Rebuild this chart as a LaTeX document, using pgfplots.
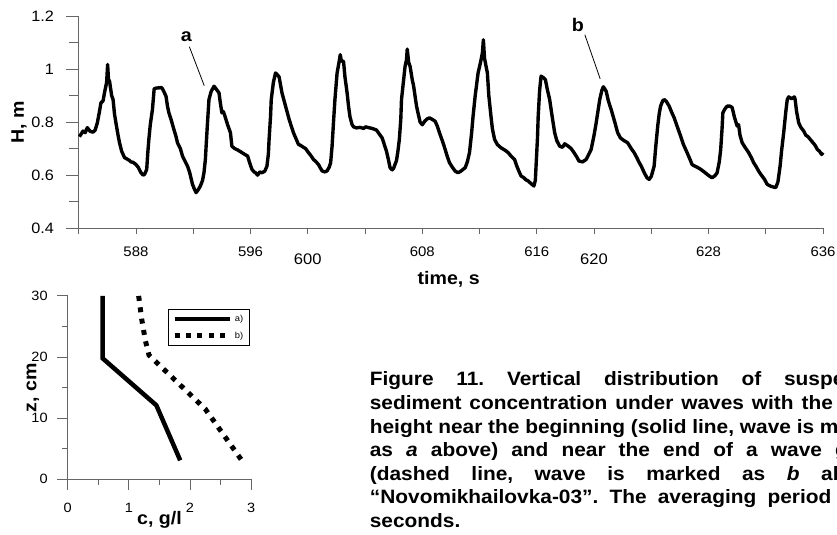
\documentclass[border=0pt]{standalone}
\usepackage{fontspec}
\setmainfont{Liberation Sans}[FakeStretch=1.08]
\usepackage{pgfplots}
\pgfplotsset{compat=1.18}
\definecolor{axgray}{rgb}{0.40,0.40,0.40}
\newcommand{\fs}[1]{\fontsize{#1}{#1}\selectfont}
\newlength\capw
\begin{document}
\frenchspacing
\settowidth\capw{\bfseries\fontsize{19.4}{23.7}\selectfont height near the beginning (solid line, wave is marked}
\begin{tikzpicture}
\begin{axis}[
  at={(76pt,307pt)}, anchor=south west, scale only axis,
  width=747pt, height=213pt,
  xmin=584, xmax=636, ymin=0.4, ymax=1.2,
  axis lines=left, axis line style={-, draw=axgray, line width=0.9pt},
  tick align=outside,
  /pgf/number format/assume math mode=true,
  xtick={588,596,608,616,628,636},
  minor xtick={584,592,604,612,624,632},
  extra x ticks={600,620},
  extra x tick style={major tick length=13.5pt, xticklabel style={font=\fs{15.4}, yshift=2pt}},
  xtick style={draw=axgray, line width=0.9pt, /pgfplots/major tick length=6pt, /pgfplots/minor tick length=6pt},
  ytick={0.4,0.6,0.8,1,1.2},
  minor ytick={0.5,0.7,0.9,1.1},
  ytick style={draw=axgray, line width=0.9pt, /pgfplots/major tick length=13pt, /pgfplots/minor tick length=10pt},
  xticklabel style={font=\fs{13.9}, yshift=-11pt},
  yticklabel style={font=\fs{15.1}, xshift=-17pt},
  xlabel={\bfseries time, s},
  xlabel style={font=\fs{18.2}, at={(axis description cs:0.497,-0.2394)}, anchor=center},
  ylabel={\bfseries H, m},
  ylabel style={font=\fs{18.2}, at={(axis description cs:-0.0803,0.5)}, anchor=center},
  clip=false,
]
\addplot[black, line width=3.4pt, line join=round] coordinates {
(584.05,0.745)(584.3,0.766)(584.45,0.760)(584.6,0.779)(584.8,0.765)(585.0,0.762)(585.15,0.770)
(585.3,0.797)(585.45,0.840)(585.55,0.872)(585.7,0.880)(585.8,0.910)(585.95,0.950)(586.02,1.017)
(586.08,0.960)(586.15,0.955)(586.3,0.900)(586.4,0.885)(586.5,0.830)(586.6,0.797)(586.75,0.750)
(586.85,0.722)(587.0,0.690)(587.2,0.666)(587.4,0.660)(587.55,0.655)(587.65,0.650)(587.8,0.648)
(588.0,0.640)(588.15,0.630)(588.35,0.609)(588.5,0.600)(588.6,0.603)(588.7,0.615)(588.75,0.622)
(588.82,0.680)(588.9,0.735)(589.0,0.790)(589.15,0.847)(589.27,0.925)(589.4,0.928)(589.6,0.929)
(589.8,0.930)(589.95,0.915)(590.1,0.897)(590.2,0.860)(590.3,0.835)(590.45,0.810)(590.65,0.772)
(590.8,0.745)(590.9,0.722)(591.1,0.700)(591.25,0.672)(591.45,0.650)(591.6,0.634)(591.75,0.610)
(591.95,0.565)(592.1,0.545)(592.2,0.534)(592.35,0.545)(592.5,0.559)(592.65,0.580)(592.75,0.609)
(592.85,0.660)(592.9,0.709)(593.0,0.800)(593.1,0.885)(593.25,0.915)(593.45,0.935)(593.6,0.925)
(593.8,0.910)(593.9,0.870)(594.0,0.835)(594.1,0.840)(594.2,0.825)(594.4,0.790)(594.6,0.760)
(594.7,0.709)(594.9,0.700)(595.1,0.695)(595.25,0.690)(595.4,0.685)(595.6,0.678)(595.8,0.672)
(595.95,0.645)(596.1,0.622)(596.25,0.612)(596.35,0.609)(596.5,0.600)(596.65,0.612)(596.8,0.609)
(597.0,0.615)(597.15,0.634)(597.25,0.680)(597.3,0.735)(597.4,0.820)(597.45,0.885)(597.6,0.950)
(597.75,0.985)(597.85,0.980)(598.0,0.970)(598.1,0.940)(598.2,0.910)(598.4,0.870)(598.55,0.840)
(598.7,0.810)(598.85,0.785)(599.0,0.760)(599.2,0.735)(599.35,0.716)(599.5,0.712)(599.7,0.705)
(599.85,0.700)(600.05,0.685)(600.2,0.675)(600.4,0.659)(600.55,0.652)(600.75,0.640)(600.9,0.625)
(601.0,0.616)(601.2,0.612)(601.35,0.616)(601.5,0.630)(601.6,0.647)(601.7,0.709)(601.8,0.800)
(601.9,0.885)(602.05,0.985)(602.2,1.030)(602.27,1.054)(602.35,1.030)(602.5,1.029)(602.6,0.970)
(602.75,0.910)(602.85,0.860)(602.95,0.820)(603.1,0.790)(603.2,0.782)(603.4,0.778)(603.65,0.780)
(603.9,0.776)(604.05,0.782)(604.25,0.779)(604.5,0.776)(604.8,0.770)(605.0,0.755)(605.2,0.740)
(605.35,0.715)(605.5,0.690)(605.65,0.655)(605.75,0.628)(605.9,0.620)(606.0,0.626)(606.2,0.655)
(606.3,0.690)(606.4,0.735)(606.5,0.810)(606.55,0.885)(606.7,0.960)(606.8,1.010)(606.9,1.035)
(606.95,1.075)(607.05,1.025)(607.15,1.010)(607.3,0.960)(607.4,0.935)(607.5,0.897)(607.6,0.860)
(607.7,0.835)(607.85,0.800)(608.0,0.790)(608.2,0.805)(608.35,0.812)(608.5,0.816)(608.7,0.810)
(608.9,0.803)(609.05,0.785)(609.2,0.760)(609.4,0.730)(609.6,0.697)(609.75,0.670)(609.9,0.647)
(610.1,0.630)(610.3,0.615)(610.5,0.609)(610.7,0.615)(611.0,0.628)(611.15,0.650)(611.3,0.685)
(611.45,0.760)(611.55,0.822)(611.7,0.900)(611.9,0.985)(612.05,1.020)(612.2,1.060)(612.27,1.110)
(612.35,1.040)(612.55,0.985)(612.65,0.900)(612.8,0.822)(612.9,0.775)(613.05,0.735)(613.25,0.715)
(613.5,0.703)(613.75,0.695)(614.0,0.685)(614.2,0.672)(614.45,0.659)(614.6,0.635)(614.75,0.615)
(614.9,0.597)(615.1,0.590)(615.25,0.582)(615.4,0.578)(615.6,0.568)(615.8,0.559)(615.9,0.580)
(615.95,0.634)(616.05,0.740)(616.1,0.822)(616.2,0.920)(616.3,0.973)(616.45,0.968)(616.6,0.960)
(616.75,0.920)(616.9,0.885)(617.05,0.830)(617.25,0.760)(617.4,0.730)(617.6,0.709)(617.8,0.705)
(617.95,0.718)(618.2,0.709)(618.4,0.700)(618.6,0.685)(618.8,0.668)(618.95,0.653)(619.2,0.650)
(619.45,0.659)(619.65,0.680)(619.8,0.697)(620.0,0.750)(620.15,0.797)(620.3,0.850)(620.4,0.885)
(620.55,0.920)(620.65,0.933)(620.75,0.925)(620.85,0.916)(621.0,0.880)(621.2,0.847)(621.45,0.800)
(621.65,0.760)(621.85,0.740)(622.1,0.730)(622.35,0.722)(622.6,0.700)(622.8,0.685)(623.0,0.665)
(623.15,0.648)(623.3,0.634)(623.5,0.610)(623.7,0.590)(623.85,0.584)(624.0,0.595)(624.2,0.634)
(624.3,0.700)(624.45,0.785)(624.55,0.830)(624.65,0.860)(624.8,0.880)(624.9,0.885)(625.05,0.878)
(625.25,0.860)(625.4,0.840)(625.6,0.816)(625.8,0.785)(626.05,0.747)(626.25,0.715)(626.5,0.685)
(626.7,0.660)(626.85,0.640)(627.0,0.635)(627.2,0.630)(627.45,0.622)(627.7,0.612)(627.9,0.603)
(628.1,0.595)(628.25,0.590)(628.45,0.598)(628.6,0.609)(628.75,0.650)(628.85,0.697)(628.95,0.780)
(629.0,0.835)(629.15,0.850)(629.3,0.860)(629.5,0.860)(629.65,0.855)(629.8,0.820)(630.0,0.785)
(630.1,0.790)(630.2,0.750)(630.35,0.722)(630.55,0.705)(630.8,0.685)(631.0,0.665)(631.15,0.647)
(631.35,0.630)(631.5,0.615)(631.65,0.603)(631.9,0.585)(632.1,0.565)(632.35,0.558)(632.55,0.555)
(632.7,0.553)(632.85,0.575)(633.0,0.634)(633.1,0.690)(633.25,0.760)(633.4,0.840)(633.5,0.885)
(633.6,0.895)(633.8,0.888)(634.0,0.895)(634.05,0.885)(634.15,0.840)(634.3,0.797)(634.45,0.780)
(634.65,0.766)(634.8,0.750)(634.95,0.745)(635.1,0.735)(635.3,0.722)(635.45,0.712)(635.6,0.697)
(635.75,0.690)(635.9,0.678)(636.0,0.685)
};
\node[font=\bfseries\fs{18.3}] at (axis cs:591.52,1.121) {a};
\draw[black, line width=0.8pt] (axis cs:591.73,1.084) -- (axis cs:592.77,0.937);
\node[font=\bfseries\fs{18.3}] at (axis cs:618.88,1.166) {b};
\draw[black, line width=0.8pt] (axis cs:619.36,1.129) -- (axis cs:620.43,0.963);
\end{axis}

\begin{axis}[
  at={(65pt,55pt)}, anchor=south west, scale only axis,
  width=184pt, height=184pt,
  xmin=0, xmax=3, ymin=0, ymax=30,
  axis lines=left, axis line style={-, draw=axgray, line width=0.9pt},
  tick align=outside,
  /pgf/number format/assume math mode=true,
  xtick={0,1,2,3}, minor xtick={0.5,1.5,2.5},
  ytick={0,10,20,30}, minor ytick={5,15,25},
  major tick length=10.7pt, minor tick length=5.5pt,
  tick style={draw=axgray, line width=0.9pt},
  xticklabel style={font=\fs{13.5}, yshift=-10pt},
  yticklabel style={font=\fs{13.5}, xshift=-6pt},
  legend style={at={(axis cs:1.636,27.9)}, anchor=north west, draw=black, line width=0.7pt,
    fill=white, font=\fs{8.7}, inner xsep=4pt, inner ysep=4pt, row sep=5pt},
  legend cell align=left,
  legend image code/.code={\draw[#1] (0pt,0pt) -- (56pt,0pt);},
  clip=false,
]
\addplot[black, line width=4.5pt, line join=miter] coordinates {(0.57,30)(0.57,19.8)(1.45,12.1)(1.84,3.1)};
\addlegendentry{a)}
\addplot[black, line width=5pt, dash pattern=on 5pt off 6.5pt] coordinates {(1.16,30)(1.21,26.2)(1.27,22.7)(1.33,20.3)(2.25,11.5)(2.84,3.2)};
\addlegendentry{b)}
\end{axis}

\node[font=\bfseries\fs{18.2}, anchor=center] at (157pt,14pt) {c, g/l};
\node[font=\bfseries\fs{18.2}, anchor=center, rotate=90] at (30pt,147pt) {z, cm};

\node[anchor=north west, inner sep=0pt, text width=\capw, align=justify,
  font=\bfseries\fontsize{19.4}{23.7}\selectfont] at (368pt,163pt) {\tolerance=10000\hbadness=10000 Figure 11. Vertical distribution of suspended\linebreak sediment concentration under waves with the same\linebreak height near the beginning (solid line, wave is marked\linebreak as \textit{a} above) and near the end of a wave group\linebreak (dashed line, wave is marked as \textit{b} above),\linebreak “Novomikhailovka-03”. The averaging period is 30\linebreak seconds.};

\pgfresetboundingbox
\useasboundingbox (0pt,0pt) rectangle (837pt,536pt);
\end{tikzpicture}
\end{document}
